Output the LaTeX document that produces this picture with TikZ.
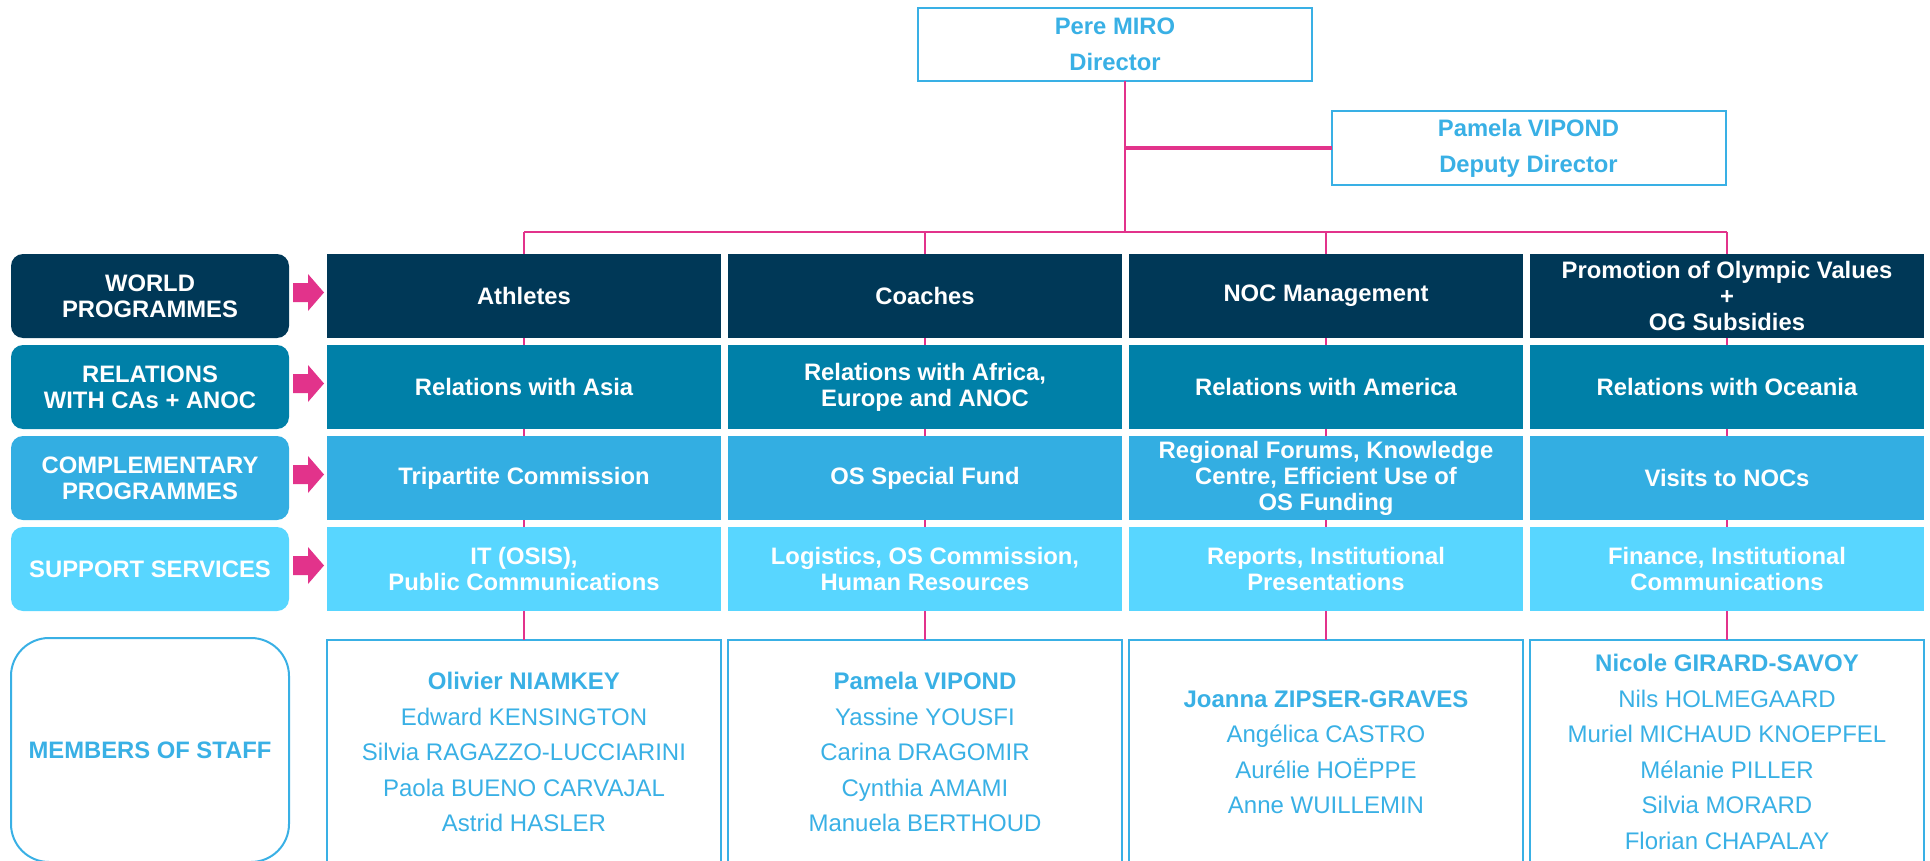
\documentclass[tikz,border=0pt]{standalone}
\usepackage{fontspec}
\setmainfont{Liberation Sans}
\definecolor{navy}{HTML}{003857}
\definecolor{teal}{HTML}{0080A8}
\definecolor{midblue}{HTML}{33AEE2}
\definecolor{lightblue}{HTML}{58D6FF}
\definecolor{txtblue}{HTML}{39B0E5}
\definecolor{pinkc}{HTML}{E2338B}
\begin{document}
\begin{tikzpicture}[x=1pt,y=-1pt,
  every node/.style={inner sep=0pt, outer sep=0pt, align=center},
  bigbold/.style={font=\fontsize{23.8}{26}\selectfont\bfseries},
  topbox/.style={draw=txtblue, line width=2pt, fill=white, text=txtblue, font=\fontsize{23.8}{36}\selectfont\bfseries, minimum width=394pt, minimum height=72.5pt},
  progbox/.style={bigbold, text=white, minimum width=394pt, minimum height=84pt},
  lblbox/.style={bigbold, text=white, rounded corners=12pt, minimum width=278pt, minimum height=84pt},
  staffbox/.style={draw=txtblue, line width=2pt, text=txtblue, font=\fontsize{24}{35.5}\selectfont, minimum width=394pt, minimum height=224pt},
  pinkline/.style={draw=pinkc, line width=2pt},
  arrowfill/.style={fill=pinkc}]
\useasboundingbox (0,0) rectangle (1930,861);
\clip (0,0) rectangle (1930,861);

% top boxes
\node[topbox] (dir) at (1115,44.3) {Pere MIRO\\Director};
\node[topbox, minimum height=74pt] (dep) at (1528.5,148) {Pamela VIPOND\\Deputy Director};
\coordinate (j) at (1124.5,232);

% left labels
\node[lblbox, fill=navy] (l1) at (150,296) {WORLD\\PROGRAMMES};
\node[lblbox, fill=teal] (l2) at (150,387) {RELATIONS\\WITH CAs + ANOC};
\node[lblbox, fill=midblue] (l3) at (150,478) {COMPLEMENTARY\\PROGRAMMES};
\node[lblbox, fill=lightblue] (l4) at (150,569) {SUPPORT SERVICES};
\node[draw=txtblue, line width=2pt, rounded corners=38pt, minimum width=278pt, minimum height=224pt, text=txtblue, bigbold] (ms) at (150,750) {MEMBERS OF STAFF};

% arrows
\foreach \yy in {292.5,383.5,474.5,565.5}{
  \fill[arrowfill] (293,\yy-9.5) -- (308,\yy-9.5) -- (308,\yy-18.5) -- (324,\yy) -- (308,\yy+18.5) -- (308,\yy+9.5) -- (293,\yy+9.5) -- cycle;
}

% column boxes
\node[progbox, fill=navy] (w1) at (524,296) {Athletes};
\node[progbox, fill=navy] (w2) at (925,296) {Coaches};
\node[progbox, fill=navy] (w3) at (1326,296) {NOC Management};
\node[progbox, fill=navy] (w4) at (1727,296) {Promotion of Olympic Values\\+\\OG Subsidies};

\node[progbox, fill=teal] (r1) at (524,387) {Relations with Asia};
\node[progbox, fill=teal] (r2) at (925,387) {Relations with Africa,\\Europe and ANOC};
\node[progbox, fill=teal] (r3) at (1326,387) {Relations with America};
\node[progbox, fill=teal] (r4) at (1727,387) {Relations with Oceania};

\node[progbox, fill=midblue] (c1) at (524,478) {Tripartite Commission};
\node[progbox, fill=midblue] (c2) at (925,478) {OS Special Fund};
\node[progbox, fill=midblue] (c3) at (1326,478) {Regional Forums, Knowledge\\Centre, Efficient Use of\\OS Funding};
\node[progbox, fill=midblue] (c4) at (1727,478) {Visits to NOCs};

\node[progbox, fill=lightblue] (s1) at (524,569) {IT (OSIS),\\Public Communications};
\node[progbox, fill=lightblue] (s2) at (925,569) {Logistics, OS Commission,\\Human Resources};
\node[progbox, fill=lightblue] (s3) at (1326,569) {Reports, Institutional\\Presentations};
\node[progbox, fill=lightblue] (s4) at (1727,569) {Finance, Institutional\\Communications};

% staff boxes
\node[staffbox] (m1) at (524,752) {\textbf{Olivier NIAMKEY}\\Edward KENSINGTON\\Silvia RAGAZZO-LUCCIARINI\\Paola BUENO CARVAJAL\\Astrid HASLER};
\node[staffbox] (m2) at (925,752) {\textbf{Pamela VIPOND}\\Yassine YOUSFI\\Carina DRAGOMIR\\Cynthia AMAMI\\Manuela BERTHOUD};
\node[staffbox] (m3) at (1326,752) {\textbf{Joanna ZIPSER-GRAVES}\\Angélica CASTRO\\Aurélie HOËPPE\\Anne WUILLEMIN};
\node[staffbox] (m4) at (1727,752) {\textbf{Nicole GIRARD-SAVOY}\\Nils HOLMEGAARD\\Muriel MICHAUD KNOEPFEL\\Mélanie PILLER\\Silvia MORARD\\Florian CHAPALAY};

% connectors
\draw[pinkline] (dir.south -| j) -- (j);
\draw[pinkline, line width=3.5pt] (j |- dep.west) -- (dep.west);
\draw[pinkline, line width=2.5pt] (w1.north |- j) -- (w4.north |- j);
\foreach \i in {1,2,3,4}{
  \draw[pinkline] (w\i.north |- j) -- (w\i.north);
  \draw[pinkline] (w\i.south) -- (r\i.north);
  \draw[pinkline] (r\i.south) -- (c\i.north);
  \draw[pinkline] (c\i.south) -- (s\i.north);
  \draw[pinkline] (s\i.south) -- (m\i.north);
}
\end{tikzpicture}
\end{document}
